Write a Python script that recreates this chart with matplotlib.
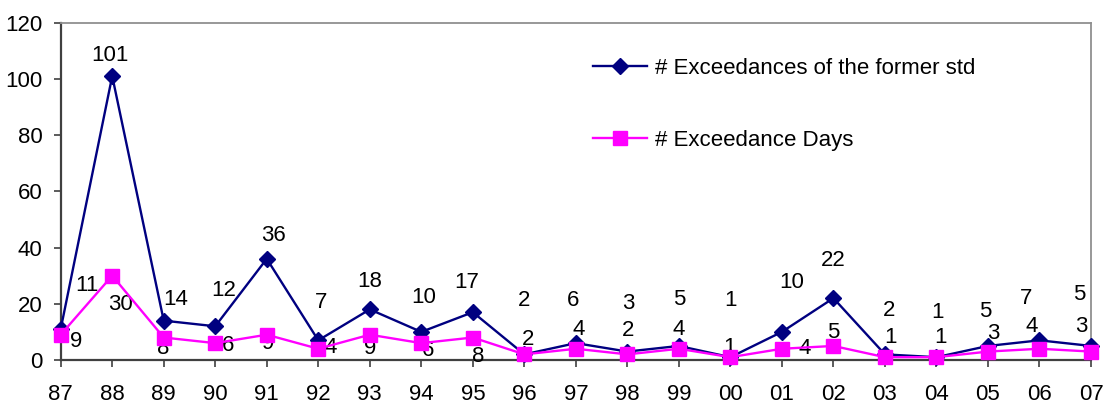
import matplotlib.pyplot as plt

plt.rcParams["font.family"] = ["Liberation Sans", "DejaVu Sans"]

years = ["87", "88", "89", "90", "91", "92", "93", "94", "95", "96", "97",
         "98", "99", "00", "01", "02", "03", "04", "05", "06", "07"]
exceedances = [11, 101, 14, 12, 36, 7, 18, 10, 17, 2, 6, 3, 5, 1, 10, 22, 2, 1, 5, 7, 5]
exceed_days = [9, 30, 8, 6, 9, 4, 9, 6, 8, 2, 4, 2, 4, 1, 4, 5, 1, 1, 3, 4, 3]

# label offsets (pixels, x right / y up) so the numbers don't collide
exc_offsets = [(26, 44), (-2, 21), (12, 21), (8, 36), (7, 23), (3, 38), (0, 28),
               (2, 34), (-6, 30), (0, 54), (-3, 43), (1, 48), (0, 46), (0, 57),
               (10, 49), (0, 38), (4, 44), (1, 45), (-3, 34), (-13, 42), (-12, 51)]
day_offsets = [(15, -7), (8, -29), (-1, -11), (13, -2), (1, -9), (12, 1), (0, -14),
               (7, -7), (5, -19), (4, 15), (3, 19), (1, 24), (0, 19), (-1, 10),
               (23, 0), (0, 13), (6, 20), (4, 20), (5, 18), (-8, 22), (-10, 25)]

NAVY = "#000080"
MAGENTA = "#FF00FF"
FS = 16

fig = plt.figure(figsize=(11.06, 4.03), dpi=100)
ax = fig.add_axes([60.7 / 1106, 43 / 403, (1091 - 60.7) / 1106, (360 - 22.7) / 403])

x = list(range(len(years)))
ax.plot(x, exceedances, color=NAVY, lw=1.7, marker="D", markersize=8.5,
        label="# Exceedances of the former std", clip_on=False, zorder=3)
ax.plot(x, exceed_days, color=MAGENTA, lw=1.7, marker="s", markersize=10.5,
        label="# Exceedance Days", clip_on=False, zorder=4)

for xi, v, off in zip(x, exceedances, exc_offsets):
    ax.annotate(str(v), (xi, v), xytext=off, textcoords="offset pixels",
                ha="center", va="center", fontsize=FS, annotation_clip=False)
for xi, v, off in zip(x, exceed_days, day_offsets):
    ax.annotate(str(v), (xi, v), xytext=off, textcoords="offset pixels",
                ha="center", va="center", fontsize=FS, annotation_clip=False)

ax.set_xlim(0, len(years) - 1)
ax.set_ylim(0, 120)
ax.set_yticks(range(0, 121, 20))
ax.set_xticks(x)
ax.set_xticklabels(years)
ax.tick_params(axis="both", labelsize=FS, direction="out", length=5, width=1.2,
               color="#404040")
ax.tick_params(axis="x", pad=12)
ax.tick_params(axis="y", pad=8)

for side in ("left", "bottom"):
    ax.spines[side].set_color("#404040")
    ax.spines[side].set_linewidth(1.6)
for side in ("top", "right"):
    ax.spines[side].set_color("#909090")
    ax.spines[side].set_linewidth(1.3)

ax.legend(loc="upper left", bbox_to_anchor=(593 / 1106, 1 - 58 / 403),
          bbox_transform=fig.transFigure, frameon=False, fontsize=FS,
          handlelength=2.45, handletextpad=0.35, labelspacing=2.3,
          borderpad=0, borderaxespad=0)

fig.savefig("out.png", dpi=100)
